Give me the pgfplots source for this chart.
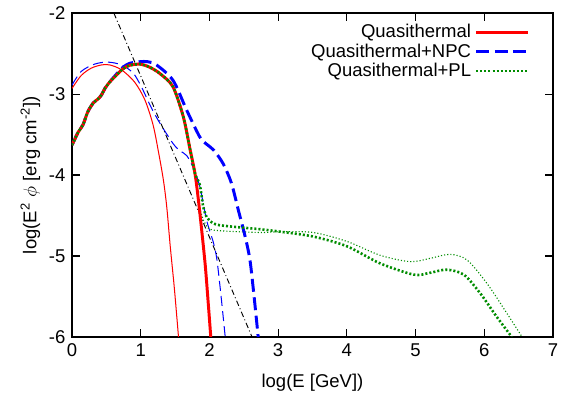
\documentclass[border=0pt]{standalone}
\usepackage{fontspec}
\setmainfont{Liberation Sans}
\usepackage{pgfplots}
\pgfplotsset{compat=1.18}
\definecolor{gpred}{rgb}{1,0,0}
\definecolor{gpblue}{rgb}{0,0,1}
\definecolor{gpgreen}{rgb}{0,0.55,0}
\begin{document}
\begin{tikzpicture}
\path[use as bounding box] (-38.9pt,-31.8pt) rectangle (265.4pt,182.1pt);
\begin{axis}[
  scale only axis, width=260pt, height=175pt,
  xmin=0, xmax=7, ymin=-6, ymax=-2,
  xtick={0,1,2,3,4,5,6,7}, ytick={-6,-5,-4,-3,-2},
  tick align=inside, major tick length=4.5pt,
  tick style={line width=0.6pt, black},
  axis line style={line width=0.7pt},
  /pgf/number format/assume math mode=true,
  xlabel={log(E [GeV])},
  ylabel={log(E\textsuperscript{2} $\phi$ [erg cm\textsuperscript{-2}])},
  xlabel style={at={([yshift=-25pt]axis description cs:0.5,0)}, anchor=center},
  ylabel style={at={([xshift=-22.5pt]axis description cs:0,0.5)}, anchor=center},
  legend style={draw=none, fill=none, inner sep=0pt, row sep=-2.3pt,
    at={(rel axis cs:0.952,0.978)}, anchor=north east, font=\normalsize},
  legend cell align=right,
  legend plot pos=right,
  legend image code/.code={\draw[#1] (0pt,0pt) -- (28pt,0pt);},
]
% thin curves
\addplot[gpred, line width=0.55pt, smooth, forget plot] coordinates {
(0,-2.93) (0.135,-2.77) (0.28,-2.68) (0.43,-2.64) (0.55,-2.64) (0.72,-2.70) (0.91,-2.85) (1.06,-3.07) (1.18,-3.38) (1.26,-3.72) (1.33,-4.06) (1.38,-4.40) (1.43,-4.88) (1.49,-5.40) (1.55,-6.0)};
\addplot[gpblue, line width=0.55pt, dash pattern=on 5.4pt off 2.8pt, smooth, forget plot] coordinates {
(0,-2.89) (0.135,-2.72) (0.33,-2.63) (0.52,-2.605) (0.72,-2.64) (0.89,-2.74) (1.01,-2.91) (1.15,-3.16) (1.28,-3.36) (1.47,-3.61) (1.57,-3.70) (1.67,-3.76) (1.77,-3.92) (1.86,-4.14) (1.96,-4.56) (2.06,-4.84) (2.11,-5.05) (2.17,-5.50) (2.23,-6.0)};
\addplot[gpgreen, line width=0.6pt, dash pattern=on 0.6pt off 1.1pt, smooth, forget plot] coordinates {
(1.79,-3.98) (1.84,-4.31) (1.89,-4.50) (1.94,-4.60) (2.06,-4.68) (2.74,-4.71) (3.03,-4.70) (3.51,-4.71) (4.0,-4.82) (4.48,-4.99) (4.92,-5.07) (5.21,-5.03) (5.50,-4.98) (5.75,-5.05) (6.04,-5.34) (6.33,-5.71) (6.55,-6.0)};
\addplot[black, line width=0.5pt, dash pattern=on 3pt off 1.5pt on 0.5pt off 1.5pt, forget plot] coordinates {
(0.61,-2.0) (2.62,-6.0)};
% thick curves
\addplot[gpblue, line width=1.6pt, dash pattern=on 7pt off 3pt, smooth, forget plot] coordinates {
(0,-3.63) (0.04,-3.56) (0.09,-3.47) (0.16,-3.38) (0.23,-3.22) (0.31,-3.11) (0.38,-3.06) (0.43,-3.01) (0.48,-2.93) (0.55,-2.85) (0.62,-2.78) (0.74,-2.67) (0.84,-2.62) (0.99,-2.60) (1.1,-2.60) (1.23,-2.64) (1.47,-2.83) (1.67,-3.20) (1.86,-3.53) (1.96,-3.62) (2.06,-3.69) (2.20,-3.86) (2.32,-4.10) (2.42,-4.43) (2.52,-4.76) (2.59,-5.05) (2.65,-5.50) (2.71,-6.0)};
\addplot[gpred, line width=1.6pt, smooth, forget plot] coordinates {
(0,-3.63) (0.04,-3.56) (0.09,-3.47) (0.16,-3.38) (0.23,-3.22) (0.31,-3.11) (0.38,-3.06) (0.43,-3.01) (0.48,-2.93) (0.55,-2.85) (0.62,-2.79) (0.74,-2.69) (0.84,-2.645) (0.99,-2.63) (1.11,-2.66) (1.20,-2.70) (1.30,-2.76) (1.47,-2.91) (1.62,-3.28) (1.72,-3.69) (1.79,-3.98) (1.84,-4.31) (1.89,-4.70) (1.94,-5.12) (1.98,-5.55) (2.02,-6.0)};
\addplot[gpgreen, line width=1.4pt, dash pattern=on 1.1pt off 1.1pt, smooth, forget plot] coordinates {
(0,-3.63) (0.04,-3.56) (0.09,-3.47) (0.16,-3.38) (0.23,-3.22) (0.31,-3.11) (0.38,-3.06) (0.43,-3.01) (0.48,-2.93) (0.55,-2.85) (0.62,-2.79) (0.74,-2.69) (0.84,-2.645) (0.99,-2.63) (1.11,-2.66) (1.20,-2.70) (1.30,-2.76) (1.47,-2.91) (1.62,-3.28) (1.72,-3.69) (1.79,-3.98) (1.86,-4.12) (1.91,-4.39) (1.96,-4.52) (2.01,-4.57) (2.15,-4.62) (2.74,-4.67) (3.03,-4.70) (3.51,-4.76) (4.0,-4.88) (4.48,-5.09) (4.97,-5.23) (5.2,-5.21) (5.45,-5.17) (5.70,-5.23) (5.94,-5.46) (6.18,-5.75) (6.40,-6.0)};
\addlegendimage{gpred, line width=1.6pt}
\addlegendentry{Quasithermal}
\addlegendimage{gpblue, line width=1.6pt, dash pattern=on 7pt off 3pt}
\addlegendentry{Quasithermal+NPC}
\addlegendimage{gpgreen, line width=1.4pt, dash pattern=on 1.1pt off 1.1pt}
\addlegendentry{Quasithermal+PL}
\end{axis}
\end{tikzpicture}
\end{document}
